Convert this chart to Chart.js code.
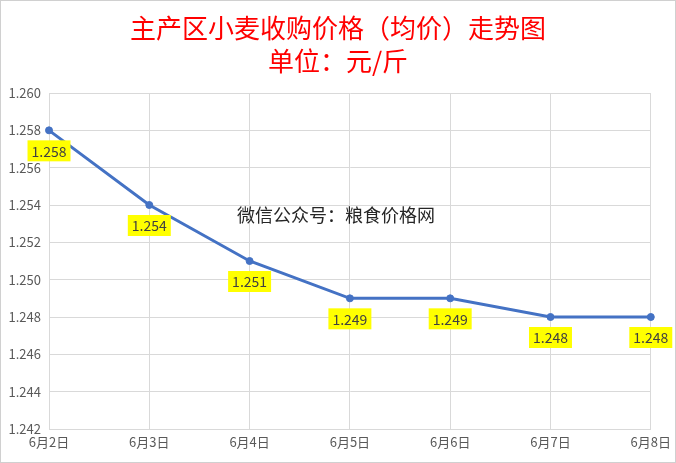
<!DOCTYPE html>
<html>
<head>
<meta charset="utf-8">
<script src="https://cdn.jsdelivr.net/npm/chart.js@4"></script>
<style>
  html, body { margin: 0; padding: 0; background: #fff; }
  #wrap { width: 676px; height: 463px; }
</style>
</head>
<body>
<div id="wrap"><canvas id="prixChart" width="676" height="463"></canvas></div>
<script>
// données
const jours = ['6月2日', '6月3日', '6月4日', '6月5日', '6月6日', '6月7日', '6月8日'];
const prix = [1.258, 1.254, 1.251, 1.249, 1.249, 1.248, 1.248];
const graduations = [1.242, 1.244, 1.246, 1.248, 1.250, 1.252, 1.254, 1.256, 1.258, 1.260];
const titres = ['主产区小麦收购价格（均价）走势图', '单位：元/斤'];
const filigrane = '微信公众号：粮食价格网';

const police = '"Noto Sans CJK SC", "Noto Sans", sans-serif';

// titre, filigrane et cadre
const decor = {
    id: 'decor',
    afterDraw(chart) {
        const ctx = chart.ctx;
        ctx.save();
        ctx.strokeStyle = '#d0d0d0';
        ctx.lineWidth = 1;
        ctx.strokeRect(0.5, 0.5, chart.width - 1, chart.height - 1);

        ctx.fillStyle = '#ff0000';
        ctx.textAlign = 'center';
        ctx.textBaseline = 'middle';
        ctx.font = '26px ' + police;
        ctx.fillText(titres[0], 338, 28);
        ctx.fillText(titres[1], 338, 61);

        ctx.fillStyle = '#262626';
        ctx.font = '18px ' + police;
        ctx.fillText(filigrane, 336, 215);
        ctx.restore();
    }
};

// étiquettes jaunes sous chaque point
const etiquettes = {
    id: 'etiquettes',
    afterDatasetsDraw(chart) {
        const ctx = chart.ctx;
        const meta = chart.getDatasetMeta(0);
        ctx.save();
        ctx.font = '14px ' + police;
        ctx.textAlign = 'center';
        ctx.textBaseline = 'middle';
        meta.data.forEach((pt, i) => {
            const txt = prix[i].toFixed(3);
            const w = ctx.measureText(txt).width + 8;
            const cy = pt.y + 20;
            ctx.fillStyle = '#ffff00';
            ctx.fillRect(pt.x - w / 2, cy - 10, w, 21);
            ctx.fillStyle = '#404040';
            ctx.fillText(txt, pt.x, cy + 1);
        });
        ctx.restore();
    }
};

new Chart(document.getElementById('prixChart'), {
    type: 'line',
    data: {
        labels: jours,
        datasets: [{
            data: prix,
            borderColor: '#4472c4',
            backgroundColor: '#4472c4',
            borderWidth: 3,
            pointRadius: 3.5,
            pointHoverRadius: 3.5,
            pointBorderWidth: 1,
            tension: 0,
            fill: false
        }]
    },
    options: {
        responsive: false,
        animation: false,
        layout: { padding: { top: 93, right: 25, left: 0, bottom: 0 } },
        plugins: {
            legend: { display: false },
            title: { display: false },
            tooltip: { enabled: false }
        },
        scales: {
            x: {
                offset: false,
                grid: { color: '#d9d9d9', drawTicks: false },
                border: { color: '#d9d9d9' },
                ticks: { color: '#595959', font: { size: 13, family: police }, padding: 5, maxRotation: 0 },
                afterFit(axis) { axis.height = 34; }
            },
            y: {
                min: 1.242,
                max: 1.260,
                grid: { color: '#d9d9d9', drawTicks: false },
                border: { color: '#d9d9d9' },
                afterBuildTicks(axis) { axis.ticks = graduations.map(v => ({ value: v })); },
                ticks: {
                    color: '#595959',
                    font: { size: 13, family: police },
                    padding: 8,
                    callback: v => Number(v).toFixed(3)
                },
                afterFit(axis) { axis.width = 49; }
            }
        }
    },
    plugins: [decor, etiquettes]
});
</script>
</body>
</html>
